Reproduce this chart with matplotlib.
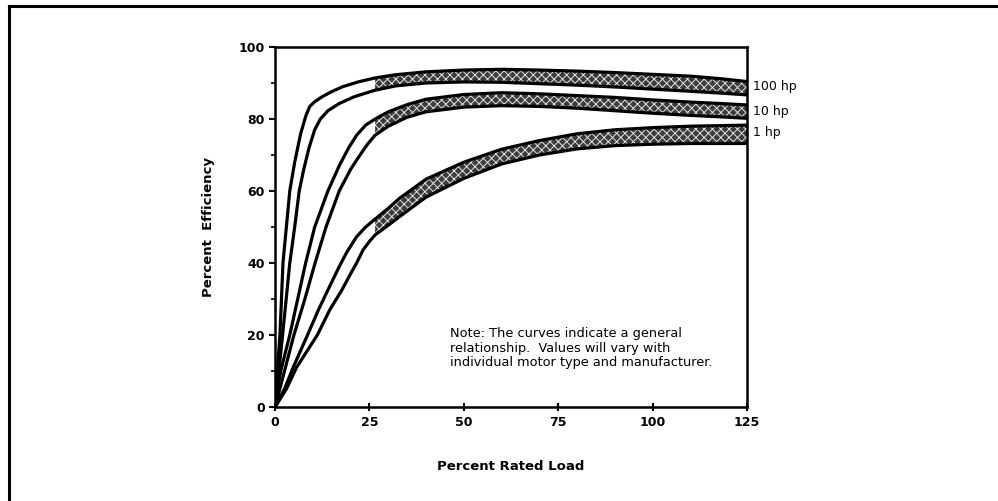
import numpy as np
import matplotlib.pyplot as plt
from matplotlib.lines import Line2D

plt.rcParams['font.family'] = ['DejaVu Sans']
plt.rcParams['hatch.linewidth'] = 0.7

# boundary curves of each efficiency band (percent rated load, percent efficiency)
load_100_hi = [0, 0.6, 1.3, 2.1, 3.0, 3.9, 5.2, 6.8, 8.2, 9.2, 10.5, 12.5, 15, 18, 22, 26.5, 32, 40, 50, 60, 70, 80, 90, 100, 110, 118, 125]
eff_100_hi = [4, 10, 20, 40, 50, 60, 68, 76, 81, 83.5, 84.8, 86.2, 87.6, 89, 90.3, 91.4, 92.3, 93.1, 93.6, 93.8, 93.6, 93.3, 92.9, 92.4, 91.9, 91.2, 90.4]
load_100_lo = [0, 1, 2, 3.9, 5.2, 6.4, 7.6, 9, 10.5, 12, 14, 17, 21, 26.5, 32, 40, 50, 60, 70, 80, 90, 100, 110, 118, 125]
eff_100_lo = [2, 10, 20, 40, 50, 60, 66, 72, 77, 80, 82.3, 84.3, 86.2, 88, 89.2, 90, 90.3, 90.2, 89.8, 89.4, 88.9, 88.3, 87.7, 87.2, 86.7]

load_10_hi = [0, 1.5, 3.9, 6, 8.1, 10.5, 14, 17, 19.5, 21.6, 24, 26.5, 30, 35, 40, 50, 60, 70, 80, 90, 100, 110, 118, 125]
eff_10_hi = [1, 10, 20, 30, 40, 50, 60, 67, 72, 75.5, 78.3, 80, 82, 84, 85.5, 86.8, 87.3, 87, 86.5, 86, 85.3, 84.7, 84.3, 83.9]
load_10_lo = [0, 2, 5, 7.9, 10.6, 13.5, 17, 20, 22.5, 24.5, 26.5, 30, 35, 40, 50, 60, 70, 80, 90, 100, 110, 118, 125]
eff_10_lo = [0, 8, 20, 30, 40, 50, 60, 66, 70, 73, 75.5, 78, 80.5, 82, 83.3, 83.7, 83.5, 83, 82.3, 81.6, 81, 80.6, 80.2]

load_1_hi = [0, 2.5, 4.8, 8.6, 11.5, 14, 17, 19, 21.6, 24, 26.5, 30, 33, 40, 50, 60, 70, 80, 90, 100, 110, 125]
eff_1_hi = [0, 5, 11, 20, 27, 32.5, 39, 43, 47.3, 50, 52.2, 55.2, 58.0, 63.3, 68, 71.6, 74, 75.9, 77, 77.6, 78, 78.3]
load_1_lo = [0, 3, 5.7, 11.2, 14.5, 17.7, 20, 21.6, 23.3, 25, 26.5, 30, 33, 40, 50, 60, 70, 80, 90, 100, 110, 125]
eff_1_lo = [0, 5, 11, 20, 27, 32.5, 37, 40, 43.6, 46, 47.8, 50.5, 52.9, 58.3, 63.5, 67.5, 70, 71.7, 72.6, 73, 73.2, 73.2]

bands = [
    ('100 hp', load_100_hi, eff_100_hi, load_100_lo, eff_100_lo, 88.9),
    ('10 hp', load_10_hi, eff_10_hi, load_10_lo, eff_10_lo, 82.2),
    ('1 hp', load_1_hi, eff_1_hi, load_1_lo, eff_1_lo, 76.2),
]
shade_start = 26.5

fig = plt.figure(figsize=(9.98, 5.01), dpi=100)
ax = fig.add_axes([0.2756, 0.1876, 0.4729, 0.7186])

for name, xh, yh, xl, yl, ylab in bands:
    xh, yh, xl, yl = map(np.array, (xh, yh, xl, yl))
    mh = xh >= shade_start
    ml = xl >= shade_start
    px = np.concatenate([xh[mh], xl[ml][::-1]])
    py = np.concatenate([yh[mh], yl[ml][::-1]])
    ax.fill(px, py, facecolor='#3c3c3c', edgecolor='#e0e0e0', hatch='xxxx', linewidth=0)
    ax.plot(xh, yh, color='black', lw=2.3, solid_capstyle='butt', solid_joinstyle='round')
    ax.plot(xl, yl, color='black', lw=2.3, solid_capstyle='butt', solid_joinstyle='round')
    ax.text(126.5, ylab, name, fontsize=9, va='center', ha='left', clip_on=False)

ax.set_xlim(0, 125)
ax.set_ylim(0, 100)
ax.set_xticks([0, 25, 50, 75, 100, 125])
ax.set_yticks([0, 20, 40, 60, 80, 100])
ax.set_yticks(np.arange(10, 100, 20), minor=True)
ax.tick_params(axis='both', which='major', length=4, width=1.5, labelsize=9)
ax.tick_params(axis='y', which='minor', length=3, width=1.2)
ax.tick_params(axis='x', direction='inout', length=6)
for lab in ax.get_xticklabels() + ax.get_yticklabels():
    lab.set_fontweight('bold')
for sp in ax.spines.values():
    sp.set_linewidth(1.8)

ax.set_ylabel('Percent  Efficiency', fontsize=9.5, fontweight='bold', labelpad=17)
ax.set_xlabel('Percent Rated Load', fontsize=9.5, fontweight='bold', labelpad=22)

ax.text(46.3, 22.2, 'Note: The curves indicate a general\nrelationship.  Values will vary with\nindividual motor type and manufacturer.',
        fontsize=9.3, va='top', ha='left', linespacing=1.15)

# scanned page frame
fig.add_artist(Line2D([0.009, 1.0], [0.988, 0.988], transform=fig.transFigure, color='black', lw=2.2))
fig.add_artist(Line2D([0.009, 0.009], [0.0, 0.988], transform=fig.transFigure, color='black', lw=2.2))

fig.savefig('out.png', dpi=100)
